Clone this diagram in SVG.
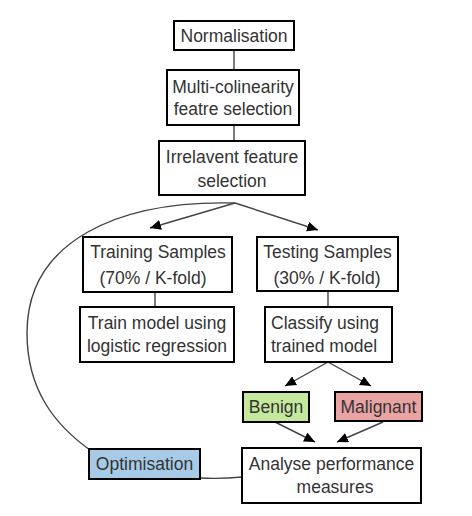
<svg xmlns="http://www.w3.org/2000/svg" width="472" height="516" viewBox="0 0 472 516">
<defs>
<marker id="ah" markerUnits="userSpaceOnUse" markerWidth="11" markerHeight="10" refX="11" refY="5" orient="auto">
<path d="M0,0 L11,5 L0,10 z" fill="#000"/>
</marker>
<style>
.box{fill:#fff;stroke:#000;stroke-width:2}
.t{font-family:"Liberation Sans",Arial,sans-serif;font-size:17.5px;fill:#333;text-anchor:middle}
.c{fill:none;stroke:#444;stroke-width:1.4}
</style>
</defs>
<rect width="472" height="516" fill="#fff"/>
<g id="connectors">
<line class="c" x1="234" y1="50" x2="234" y2="70"/>
<line class="c" x1="234" y1="125" x2="234" y2="141"/>
<line class="c" x1="155" y1="292" x2="155" y2="307"/>
<line class="c" x1="328" y1="291" x2="328" y2="307"/>
<line class="c" x1="235" y1="203" x2="150" y2="228" marker-end="url(#ah)"/>
<line class="c" x1="235" y1="203" x2="318" y2="230" marker-end="url(#ah)"/>
<line class="c" x1="328" y1="362" x2="285" y2="386" marker-end="url(#ah)"/>
<line class="c" x1="328" y1="362" x2="371" y2="386" marker-end="url(#ah)"/>
<line class="c" x1="275" y1="422" x2="315" y2="442" marker-end="url(#ah)"/>
<line class="c" x1="383" y1="422" x2="337" y2="442" marker-end="url(#ah)"/>
<path class="c" d="M235,203 C120,200 27,240 27,333 C27,390 55,425 90,450"/>
<path class="c" d="M200,478 Q222,479 242,477"/>
</g>
<g id="normalisation">
<rect class="box" x="174" y="21" width="120" height="29"/>
<text class="t" x="234" y="42">Normalisation</text>
</g>
<g id="multicolinearity">
<rect class="box" x="167" y="70" width="132" height="55"/>
<text class="t" x="233" y="93">Multi-colinearity</text>
<text class="t" x="233" y="115">featre selection</text>
</g>
<g id="irrelavent">
<rect class="box" x="159" y="141" width="146" height="54"/>
<text class="t" x="232" y="163">Irrelavent feature</text>
<text class="t" x="232" y="187">selection</text>
</g>
<g id="training">
<rect class="box" x="83" y="237" width="149" height="55"/>
<text class="t" x="158" y="258">Training Samples</text>
<text class="t" x="153" y="284">(70% / K-fold)</text>
</g>
<g id="testing">
<rect class="box" x="257" y="237" width="141" height="54"/>
<text class="t" x="327.5" y="258">Testing Samples</text>
<text class="t" x="327" y="284">(30% / K-fold)</text>
</g>
<g id="trainmodel">
<rect class="box" x="80" y="307" width="154" height="55"/>
<text class="t" x="157" y="329">Train model using</text>
<text class="t" x="157" y="352">logistic regression</text>
</g>
<g id="classify">
<rect class="box" x="265" y="307" width="127" height="55"/>
<text class="t" x="271" y="329" style="text-anchor:start">Classify using</text>
<text class="t" x="271" y="352" style="text-anchor:start">trained model</text>
</g>
<g id="benign">
<rect class="box" x="243" y="392" width="66" height="30" style="fill:#c4e89c"/>
<text class="t" x="276" y="413">Benign</text>
</g>
<g id="malignant">
<rect class="box" x="335" y="392" width="87" height="29" style="fill:#e9a3a3"/>
<text class="t" x="378.5" y="413">Malignant</text>
</g>
<g id="optimisation">
<rect class="box" x="89" y="449" width="111" height="30" style="fill:#a7cbe6"/>
<text class="t" x="144.5" y="470">Optimisation</text>
</g>
<g id="analyse">
<rect class="box" x="242" y="448" width="179" height="55"/>
<text class="t" x="331.5" y="470">Analyse performance</text>
<text class="t" x="335" y="493">measures</text>
</g>
</svg>
